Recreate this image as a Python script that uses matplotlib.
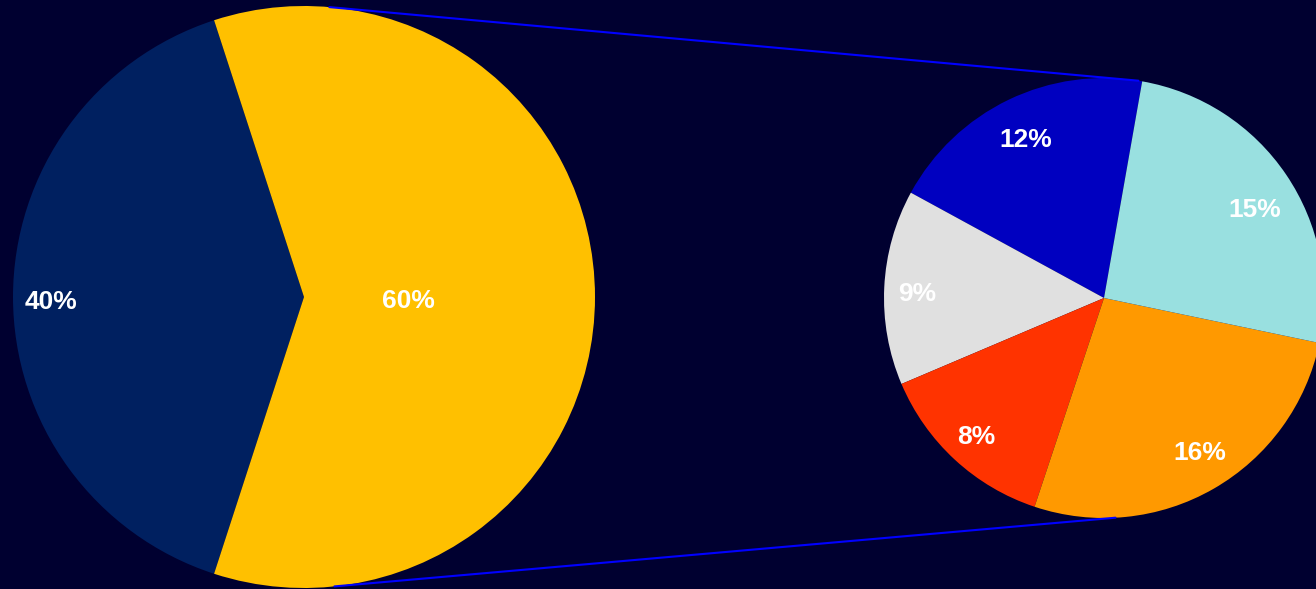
import numpy as np
import matplotlib.pyplot as plt
from matplotlib.patches import ConnectionPatch

plt.rcParams['font.family'] = ['Liberation Sans', 'DejaVu Sans']

# main pie
main_labels = ["Other", "Group"]
main_values = [40, 60]
main_colors = ["#002060", "#FFC000"]

# breakdown of the 60% slice (percent of total)
sub_labels = ["A", "B", "C", "D", "E"]
sub_values = [11.9, 8.6, 8.1, 16.1, 15.3]
sub_colors = ["#0000C0", "#E0E0E0", "#FF3300", "#FF9900", "#99E0E0"]

BG = "#000030"
W, H = 1316, 589


def draw_plot():
    fig = plt.figure(figsize=(W / 100, H / 100), dpi=100, facecolor=BG)

    # left pie: centre (304, 297) px, radius 291 px
    ax1 = fig.add_axes([13 / W, (H - 588) / H, 582 / W, 582 / H])
    # right pie: centre (1104, 298) px, radius 220 px
    ax2 = fig.add_axes([884 / W, (H - 518) / H, 440 / W, 440 / H])

    total = sum(main_values)
    ax1.pie(main_values, colors=main_colors, startangle=108,
            counterclock=True, radius=1, wedgeprops=dict(linewidth=0))
    # label positions (fraction of radius)
    main_pos = [(-0.87, -0.01), (0.36, -0.005)]
    for v, (x, y) in zip(main_values, main_pos):
        ax1.text(x, y, f"{v / total * 100:.0f}%", color="white", fontsize=19,
                 fontweight="bold", ha="center", va="center_baseline")

    ax2.pie(sub_values, colors=sub_colors, startangle=80,
            counterclock=True, radius=1, wedgeprops=dict(linewidth=0))
    # (angle, radius) of each label, as placed in the picture
    sub_pos = [(116, 0.81), (178, 0.85), (227, 0.85), (302, 0.82), (31, 0.80)]
    for v, (a, r) in zip(sub_values, sub_pos):
        t = np.deg2rad(a)
        ax2.text(r * np.cos(t), r * np.sin(t), f"{v:.0f}%",
                 color="white", fontsize=19, fontweight="bold",
                 ha="center", va="center_baseline")

    for ax in (ax1, ax2):
        ax.set_facecolor(BG)
        ax.set_aspect("auto")
        ax.set_xlim(-1, 1)
        ax.set_ylim(-1, 1)
        ax.axis("off")

    # connector lines
    a_top, a_bot = np.deg2rad(85), np.deg2rad(-84)
    b_top, b_bot = np.deg2rad(81), np.deg2rad(-87)
    for a, b in [(a_top, b_top), (a_bot, b_bot)]:
        con = ConnectionPatch(xyA=(np.cos(a), np.sin(a)), coordsA=ax1.transData,
                              xyB=(np.cos(b), np.sin(b)), coordsB=ax2.transData,
                              color="#0000FF", linewidth=1.5)
        fig.add_artist(con)

    fig.savefig("out.png", dpi=100, facecolor=BG)


def main():
    draw_plot()


if __name__ == '__main__':
    main()
